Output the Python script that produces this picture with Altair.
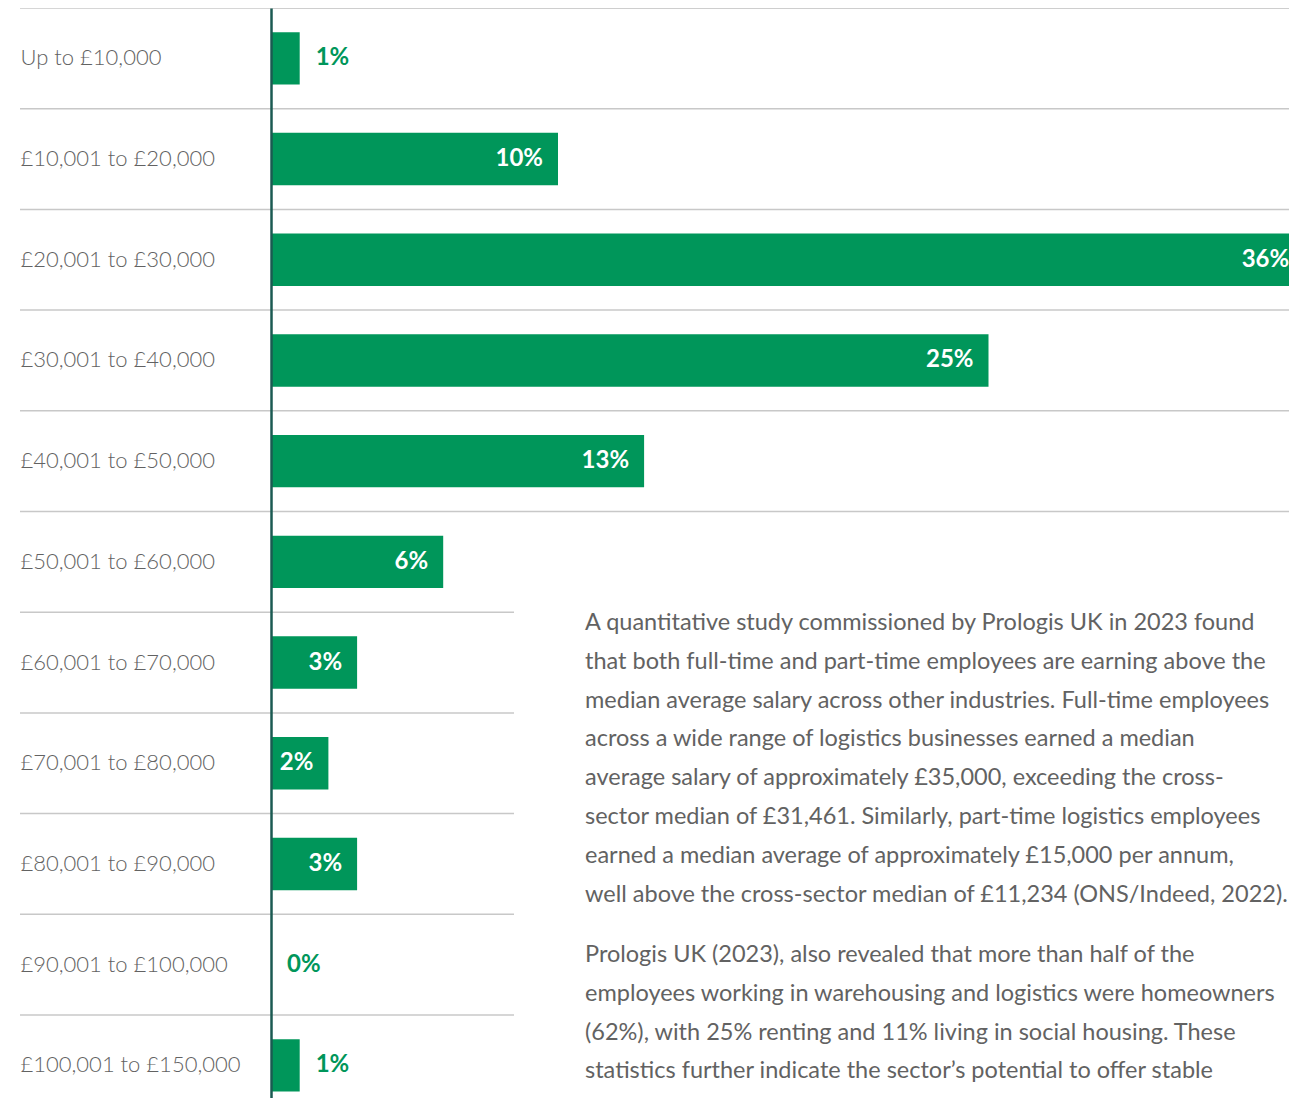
import altair as alt
import pandas as pd

categories = [
    "Up to £10,000",
    "£10,001 to £20,000",
    "£20,001 to £30,000",
    "£30,001 to £40,000",
    "£40,001 to £50,000",
    "£50,001 to £60,000",
    "£60,001 to £70,000",
    "£70,001 to £80,000",
    "£80,001 to £90,000",
    "£90,001 to £100,000",
    "£100,001 to £150,000",
]
values = [1, 10, 36, 25, 13, 6, 3, 2, 3, 0, 1]
labels = [f"{v}%" for v in values]

paragraph1 = [
    "A quantitative study commissioned by Prologis UK in 2023 found",
    "that both full-time and part-time employees are earning above the",
    "median average salary across other industries. Full-time employees",
    "across a wide range of logistics businesses earned a median",
    "average salary of approximately £35,000, exceeding the cross-",
    "sector median of £31,461. Similarly, part-time logistics employees",
    "earned a median average of approximately £15,000 per annum,",
    "well above the cross-sector median of £11,234 (ONS/Indeed, 2022).",
]
paragraph2 = [
    "Prologis UK (2023), also revealed that more than half of the",
    "employees working in warehousing and logistics were homeowners",
    "(62%), with 25% renting and 11% living in social housing. These",
    "statistics further indicate the sector’s potential to offer stable",
    "employment and support workers in achieving home ownership.",
]

GREEN = "#00965a"
AXIS = "#1b5a52"
GRID = "#c8c8c8"
TEXT = "#626262"
LABEL_FONT = "Lato"
PARA_FONT = "Lato"

df = pd.DataFrame({"cat": categories, "value": values, "label": labels,
                   "idx": list(range(len(categories)))})

STEP = 100.7
yscale = alt.Scale(domain=categories, range=[0, 11 * STEP], paddingInner=0.48, paddingOuter=0.24)
yaxis = alt.Axis(title=None, ticks=False, tickSize=0, labelPadding=251, labelAlign="left",
                 labelFont=LABEL_FONT, labelFontSize=22, labelFontWeight=300, labelColor=TEXT,
                 domainColor=AXIS, domainWidth=2.5, grid=False, zindex=1, labelLimit=400)
xscale = alt.Scale(domain=[0, 1018 / 28.7], nice=False, zero=True)

base = alt.Chart(df)

def yenc():
    return alt.Y("cat:N", sort=categories, scale=yscale, axis=yaxis)

rules_wide = base.transform_filter(alt.datum.idx < 6).mark_rule(
    color=GRID, strokeWidth=1.5, yOffset=-0.5 * STEP).encode(
    y=yenc(), x=alt.value(-251), x2=alt.value(1018))
rules_short = base.transform_filter(alt.datum.idx >= 6).mark_rule(
    color=GRID, strokeWidth=1.5, yOffset=-0.5 * STEP).encode(
    y=yenc(), x=alt.value(-251), x2=alt.value(243))

bars = base.mark_bar(color=GREEN, clip=True).encode(
    x=alt.X("value:Q", scale=xscale, axis=None),
    y=yenc(),
)

inside = base.transform_filter(alt.datum.value >= 2).mark_text(
    align="right", baseline="middle", dx=-15, color="white",
    font=LABEL_FONT, fontSize=24, fontWeight="bold").encode(
    x=alt.X("value:Q", scale=xscale, axis=None), y=yenc(), text="label:N")

outside = base.transform_filter(alt.datum.value < 2).mark_text(
    align="left", baseline="middle", dx=16, color=GREEN,
    font=LABEL_FONT, fontSize=24, fontWeight="bold").encode(
    x=alt.X("value:Q", scale=xscale, axis=None), y=yenc(), text="label:N")

one = pd.DataFrame({"p": [0]})
para1 = alt.Chart(one).mark_text(
    text=paragraph1, align="left", baseline="top", lineHeight=38.8,
    font=PARA_FONT, fontSize=23.5, color=TEXT).encode(
    x=alt.value(314), y=alt.value(603))
para2 = alt.Chart(one).mark_text(
    text=paragraph2, align="left", baseline="top", lineHeight=38.8,
    font=PARA_FONT, fontSize=23.5, color=TEXT).encode(
    x=alt.value(314), y=alt.value(935))

chart = alt.layer(rules_wide, rules_short, bars, inside, outside, para1, para2).properties(
    width=1018, height=1090,
    autosize=alt.AutoSizeParams(type="none"),
    padding={"left": 263, "top": 0, "right": 0, "bottom": 0},
).configure_view(stroke=None).configure(background="white")

chart.save("out.html", embed_options={"renderer": "svg", "actions": False})
